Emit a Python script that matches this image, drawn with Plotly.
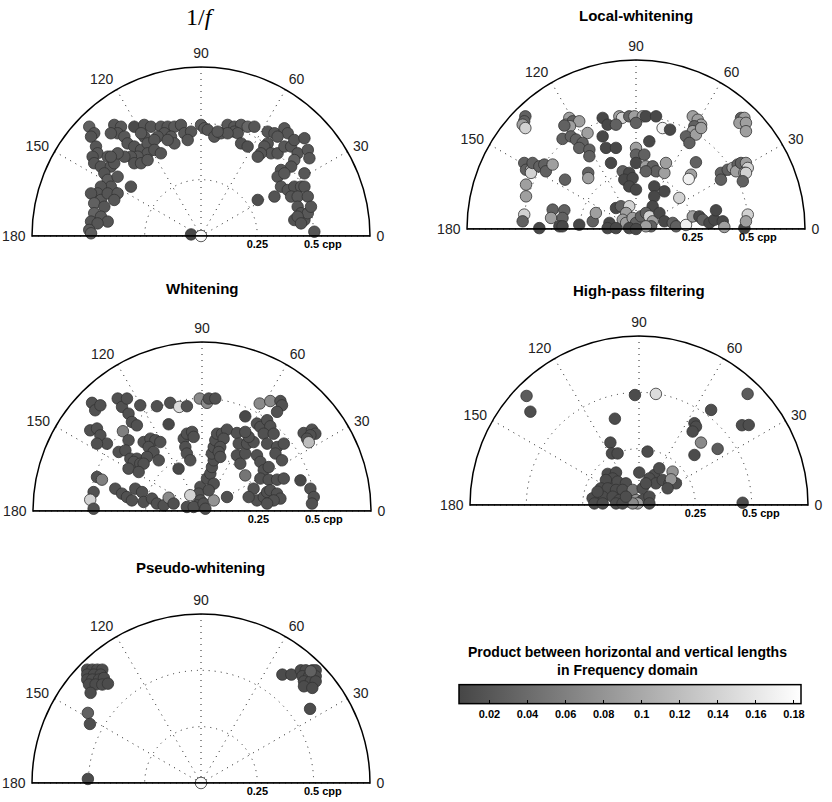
import numpy as np
import plotly.graph_objects as go

# ---------------- data (frequency coordinates in cpp, product values) ----------------
# Panel 1: 1/f
P1_FX = [-0.496,-0.474,-0.488,-0.466,-0.459,-0.481,-0.474,-0.444,-0.414,-0.400,-0.429,-0.414,-0.400,-0.444,-0.370,-0.385,
         -0.459,-0.488,-0.444,-0.474,-0.429,-0.414,-0.370,-0.385,-0.311,-0.474,-0.488,-0.444,-0.414,-0.459,-0.496,-0.488,
         -0.385,-0.355,-0.370,-0.400,-0.340,-0.296,-0.252,-0.222,-0.178,-0.148,-0.118,-0.089,-0.163,-0.133,-0.192,-0.252,
         -0.266,-0.326,-0.296,-0.266,-0.237,-0.207,-0.237,-0.281,-0.311,-0.340,-0.370,-0.400,-0.296,-0.266,-0.237,-0.207,
         -0.178,-0.074,-0.044,-0.059,-0.118,-0.148,
         0.000,0.015,0.030,
         0.059,0.089,0.118,0.148,0.178,0.148,0.163,0.207,0.237,0.178,0.207,0.118,0.074,
         0.296,0.326,0.370,0.385,0.340,0.296,0.281,0.311,0.340,0.266,0.252,0.370,0.400,0.414,0.429,0.459,0.474,0.481,
         0.414,0.400,0.355,0.340,0.370,0.355,0.385,0.414,0.444,0.400,0.429,0.459,0.459,0.474,0.429,0.444,0.459,0.474,
         0.488,0.414,0.429,0.444,0.503,
         0.252,0.326,-0.044,0.000]
P1_FY = [0.485,0.456,0.441,0.397,0.367,0.352,0.323,0.308,0.352,0.308,0.278,0.249,0.219,0.219,0.263,0.323,
         0.189,0.189,0.160,0.145,0.130,0.189,0.189,0.160,0.219,0.101,0.064,0.086,0.064,0.056,0.027,0.012,
         0.493,0.485,0.456,0.456,0.441,0.485,0.493,0.485,0.485,0.485,0.485,0.493,0.456,0.441,0.441,0.441,
         0.456,0.411,0.397,0.382,0.411,0.426,0.367,0.352,0.352,0.352,0.367,0.352,0.323,0.323,0.337,0.382,
         0.367,0.456,0.463,0.426,0.411,0.426,
         0.493,0.478,0.471,
         0.441,0.456,0.493,0.485,0.493,0.463,0.456,0.485,0.485,0.411,0.397,0.456,0.463,
         0.463,0.456,0.478,0.456,0.441,0.411,0.397,0.367,0.367,0.367,0.352,0.397,0.397,0.426,0.367,0.434,0.382,0.345,
         0.337,0.308,0.293,0.263,0.278,0.219,0.204,0.219,0.219,0.175,0.175,0.278,0.219,0.175,0.130,0.101,0.071,0.101,
         0.130,0.071,0.086,0.056,0.019,
         0.160,0.175,0.007,0.000]
P1_V = [0.030,0.020,0.018,0.020,0.022,0.018,0.020,0.019,0.021,0.020,0.018,0.026,0.020,0.019,0.021,0.020,
        0.020,0.018,0.022,0.030,0.020,0.019,0.021,0.020,0.016,0.032,0.020,0.021,0.019,0.020,0.022,0.028,
        0.020,0.022,0.019,0.020,0.021,0.008,0.020,0.019,0.021,0.020,0.022,0.020,0.019,0.021,0.020,0.019,
        0.021,0.020,0.018,0.020,0.021,0.019,0.020,0.022,0.020,0.019,0.021,0.020,0.018,0.020,0.021,0.019,
        0.020,0.022,0.020,0.019,0.021,0.020,
        0.024,0.022,0.020,
        0.020,0.019,0.021,0.020,0.022,0.019,0.020,0.035,0.020,0.016,0.015,0.020,0.021,
        0.020,0.019,0.021,0.020,0.022,0.018,0.020,0.021,0.019,0.020,0.018,0.021,0.020,0.019,0.020,0.018,0.021,0.020,
        0.030,0.018,0.020,0.019,0.021,0.020,0.018,0.015,0.020,0.019,0.021,0.020,0.018,0.020,0.019,0.016,0.020,0.021,
        0.020,0.015,0.019,0.018,0.020,
        0.012,0.018,0.006,0.180]

# Panel 2: Local-whitening
P2_FX = [-0.491,-0.496,-0.503,-0.491,-0.296,-0.311,-0.281,-0.252,-0.293,-0.318,-0.215,-0.326,-0.289,-0.266,-0.237,-0.252,
         -0.207,-0.207,-0.148,-0.126,-0.074,-0.062,-0.089,-0.030,-0.007,0.030,0.000,0.044,0.089,0.118,0.151,0.059,
         -0.148,-0.133,-0.089,0.000,0.000,0.037,-0.111,-0.059,-0.030,-0.052,-0.015,0.000,0.044,0.074,0.089,0.126,
         0.133,0.044,-0.030,0.000,0.081,0.126,0.081,0.074,0.192,0.252,0.274,0.289,0.259,0.252,0.222,0.266,0.289,
         0.237,0.266,0.244,0.234,0.466,0.481,0.459,0.488,0.488,0.377,0.377,0.407,0.429,0.451,0.444,0.466,0.488,
         0.496,0.481,0.488,0.474,-0.496,-0.488,-0.466,-0.466,-0.459,-0.429,-0.407,-0.400,-0.370,-0.488,-0.488,-0.315,
         -0.212,-0.212,-0.496,-0.503,-0.370,-0.318,-0.377,-0.326,-0.340,-0.326,-0.429,-0.252,-0.192,-0.178,-0.118,-0.089,
         -0.067,-0.030,-0.044,-0.059,-0.044,-0.015,0.000,0.022,0.044,0.059,0.074,0.067,0.044,0.104,0.126,0.163,0.178,
         0.222,0.252,0.281,0.296,0.326,0.348,0.355,0.385,0.392,0.481,0.496,0.488,-0.126,-0.030,-0.089,0.000]
P2_FY = [0.500,0.478,0.463,0.448,0.493,0.463,0.478,0.478,0.456,0.459,0.426,0.400,0.411,0.397,0.382,0.360,
         0.352,0.323,0.493,0.463,0.500,0.493,0.463,0.500,0.500,0.500,0.471,0.500,0.500,0.448,0.441,0.389,
         0.411,0.360,0.360,0.360,0.330,0.330,0.293,0.256,0.249,0.219,0.226,0.293,0.278,0.278,0.256,0.249,
         0.293,0.256,0.189,0.175,0.189,0.167,0.145,0.101,0.138,0.500,0.485,0.463,0.456,0.434,0.411,0.419,0.448,
         0.382,0.296,0.241,0.222,0.493,0.493,0.471,0.471,0.434,0.249,0.219,0.263,0.271,0.286,0.256,0.293,0.293,
         0.271,0.249,0.249,0.212,0.293,0.263,0.263,0.249,0.293,0.278,0.286,0.256,0.286,0.197,0.145,0.219,
         0.249,0.226,0.064,0.034,0.086,0.083,0.049,0.049,0.012,0.012,0.004,0.019,0.034,0.071,0.027,0.093,
         0.101,0.101,0.071,0.041,0.027,0.049,0.027,0.056,0.071,0.056,0.034,0.012,0.012,0.071,0.034,0.027,0.012,
         0.018,0.056,0.056,0.041,0.027,0.041,0.083,0.034,0.009,0.004,0.064,0.034,0.004,0.004,0.004,0.000]
P2_V = [0.030,0.030,0.090,0.140,0.090,0.090,0.030,0.090,0.090,0.030,0.090,0.030,0.030,0.030,0.030,0.030,
        0.030,0.030,0.006,0.006,0.090,0.140,0.030,0.030,0.090,0.090,0.030,0.006,0.006,0.170,0.006,0.006,
        0.006,0.006,0.006,0.090,0.030,0.030,0.006,0.030,0.006,0.006,0.006,0.006,0.090,0.030,0.030,0.090,
        0.090,0.030,0.006,0.006,0.006,0.006,0.006,0.006,0.140,0.090,0.090,0.090,0.030,0.090,0.030,0.090,0.090,
        0.030,0.030,0.090,0.170,0.030,0.090,0.090,0.090,0.090,0.030,0.030,0.030,0.090,0.030,0.090,0.030,0.090,
        0.140,0.090,0.140,0.030,0.030,0.030,0.090,0.140,0.030,0.030,0.030,0.030,0.090,0.090,0.090,0.030,
        0.030,0.090,0.140,0.030,0.030,0.030,0.090,0.030,0.006,0.006,0.006,0.006,0.030,0.090,0.006,0.006,
        0.030,0.140,0.090,0.090,0.090,0.090,0.030,0.030,0.030,0.140,0.090,0.030,0.090,0.006,0.006,0.030,0.030,
        0.170,0.090,0.006,0.030,0.006,0.006,0.006,0.006,0.090,0.006,0.140,0.090,0.006,0.006,0.006,0.006]

# Panel 3: Whitening
P3_FX = [-0.488,-0.474,-0.451,-0.374,-0.355,-0.333,-0.326,-0.311,-0.289,-0.274,-0.200,-0.141,-0.101,-0.067,-0.010,0.022,
         0.030,0.059,-0.148,-0.496,-0.466,-0.451,-0.422,-0.466,-0.351,-0.326,-0.370,-0.340,-0.318,-0.289,-0.303,-0.274,
         -0.326,-0.259,-0.229,-0.207,-0.185,-0.237,-0.215,-0.244,-0.259,-0.192,-0.281,-0.466,-0.444,-0.481,-0.496,-0.481,
         -0.385,-0.355,-0.333,-0.311,-0.296,-0.266,-0.259,-0.222,-0.200,-0.170,-0.148,-0.126,-0.081,-0.067,-0.044,-0.037,
         -0.074,-0.067,-0.052,-0.104,-0.007,-0.015,-0.052,-0.007,-0.022,-0.067,-0.037,0.007,0.015,0.052,0.111,0.022,
         0.037,0.044,0.052,0.044,0.052,0.059,0.067,0.089,0.111,0.096,0.081,0.074,0.081,0.052,0.030,0.155,0.163,
         0.155,0.170,0.192,0.200,0.229,0.207,0.192,0.192,0.244,0.259,0.289,0.303,0.274,0.318,0.289,0.333,0.363,0.326,
         0.355,0.244,0.259,0.274,0.296,0.192,0.259,0.296,0.333,0.363,0.229,0.244,0.274,0.289,0.303,0.333,0.348,0.318,
         0.289,0.207,0.256,0.303,0.348,0.355,0.333,0.437,0.451,0.488,0.503,0.481,0.466,0.474,0.481,0.496,0.488]
P3_FY = [0.480,0.447,0.469,0.499,0.462,0.499,0.432,0.395,0.380,0.469,0.465,0.480,0.462,0.465,0.499,0.480,
         0.499,0.499,0.385,0.358,0.366,0.336,0.299,0.299,0.354,0.314,0.262,0.269,0.232,0.232,0.218,0.210,
         0.188,0.306,0.321,0.314,0.306,0.284,0.262,0.240,0.210,0.225,0.173,0.151,0.139,0.084,0.050,0.010,
         0.099,0.077,0.062,0.047,0.099,0.084,0.040,0.055,0.033,0.025,0.059,0.033,0.321,0.343,0.351,0.329,
         0.284,0.255,0.225,0.188,0.107,0.077,0.070,0.047,0.025,0.018,0.018,0.033,0.010,0.047,0.062,0.144,
         0.166,0.195,0.225,0.255,0.284,0.314,0.343,0.343,0.361,0.321,0.284,0.262,0.240,0.121,0.092,0.346,0.299,
         0.247,0.210,0.255,0.299,0.306,0.329,0.351,0.420,0.388,0.373,0.403,0.376,0.343,0.343,0.299,0.284,0.299,0.255,
         0.225,0.247,0.218,0.181,0.195,0.158,0.144,0.139,0.139,0.144,0.099,0.047,0.062,0.084,0.092,0.077,0.055,0.047,
         0.033,0.062,0.477,0.488,0.488,0.469,0.440,0.136,0.346,0.361,0.343,0.336,0.321,0.305,0.099,0.062,0.033]
P3_V = [0.015,0.015,0.015,0.015,0.015,0.015,0.015,0.015,0.015,0.015,0.015,0.015,0.150,0.015,0.070,0.070,
        0.015,0.015,0.006,0.015,0.015,0.015,0.015,0.015,0.060,0.015,0.015,0.015,0.015,0.015,0.015,0.015,
        0.015,0.015,0.015,0.015,0.015,0.015,0.015,0.015,0.015,0.015,0.015,0.015,0.060,0.015,0.140,0.015,
        0.015,0.015,0.015,0.015,0.015,0.015,0.015,0.015,0.015,0.015,0.070,0.015,0.015,0.015,0.015,0.015,
        0.015,0.015,0.015,0.006,0.015,0.015,0.140,0.015,0.015,0.015,0.015,0.015,0.015,0.080,0.015,0.015,
        0.015,0.015,0.015,0.015,0.015,0.015,0.015,0.015,0.015,0.015,0.015,0.015,0.015,0.015,0.015,0.015,0.015,
        0.015,0.015,0.015,0.015,0.015,0.015,0.015,0.006,0.015,0.015,0.015,0.015,0.015,0.015,0.015,0.015,0.015,0.015,
        0.015,0.015,0.015,0.015,0.015,0.050,0.015,0.015,0.015,0.015,0.015,0.015,0.015,0.015,0.015,0.015,0.015,0.015,
        0.015,0.015,0.070,0.070,0.015,0.015,0.015,0.006,0.015,0.015,0.015,0.015,0.015,0.120,0.015,0.015,0.015]

# Panel 4: High-pass filtering
P4_FX = [-0.499,-0.482,-0.018,0.075,-0.107,0.320,0.482,0.457,0.487,0.246,0.253,0.238,0.275,0.349,0.246,-0.127,
         -0.120,-0.095,0.038,0.460,
         -0.139,-0.102,-0.117,-0.147,-0.095,-0.058,-0.169,-0.139,-0.102,-0.073,-0.028,0.016,-0.161,-0.117,-0.087,
         -0.206,-0.198,-0.161,-0.102,-0.043,-0.013,0.016,0.046,0.001,0.068,0.090,0.046,0.075,0.105,0.135,0.164,
         0.149,0.142,0.127,0.031,-0.006,0.046,-0.028,-0.073,-0.184,-0.058]
P4_FY = [0.484,0.414,0.488,0.493,0.383,0.422,0.493,0.354,0.355,0.363,0.348,0.326,0.277,0.249,0.222,0.277,
         0.229,0.229,0.237,0.010,
         0.138,0.144,0.118,0.111,0.104,0.096,0.074,0.074,0.067,0.067,0.067,0.074,0.037,0.037,0.022,
         0.030,0.007,0.007,0.007,0.015,0.022,0.022,0.037,0.144,0.133,0.163,0.118,0.096,0.111,0.096,0.096,
         0.148,0.114,0.074,0.096,0.007,0.007,0.007,0.007,0.059,0.037]
P4_V = [0.025,0.012,0.010,0.150,0.010,0.012,0.025,0.012,0.012,0.010,0.010,0.010,0.070,0.025,0.010,0.010,
        0.010,0.010,0.010,0.012,
        0.010,0.010,0.010,0.010,0.012,0.012,0.010,0.010,0.010,0.012,0.050,0.012,0.010,0.010,0.010,
        0.010,0.010,0.010,0.010,0.012,0.080,0.012,0.012,0.010,0.012,0.012,0.012,0.012,0.012,0.012,0.012,
        0.080,0.080,0.012,0.012,0.090,0.012,0.070,0.010,0.010,0.012]

# Panel 5: Pseudo-whitening
P5_FX = [-0.505,-0.482,-0.460,-0.438,-0.505,-0.475,-0.445,-0.505,-0.482,-0.453,-0.431,-0.497,-0.468,-0.438,-0.413,
         -0.490,-0.502,-0.493,-0.502,
         0.361,0.401,0.443,0.465,0.494,0.509,0.450,0.480,0.509,0.457,0.487,0.509,0.457,0.494,0.487,0.484,0.000]
P5_FY = [0.503,0.503,0.503,0.503,0.481,0.481,0.481,0.459,0.459,0.459,0.466,0.437,0.437,0.437,0.441,
         0.400,0.311,0.262,0.018,
         0.481,0.481,0.500,0.500,0.500,0.500,0.474,0.474,0.474,0.451,0.451,0.451,0.429,0.422,0.496,0.329,0.000]
P5_V = [0.010,0.010,0.010,0.010,0.010,0.010,0.010,0.010,0.012,0.010,0.010,0.010,0.010,0.012,0.010,
        0.010,0.030,0.012,0.010,
        0.010,0.010,0.010,0.010,0.010,0.010,0.010,0.010,0.010,0.010,0.010,0.010,0.010,0.010,0.030,0.010,0.180]

PANEL_TITLES = ["1/<i>f</i>", "<b>Local-whitening</b>", "<b>Whitening</b>",
                "<b>High-pass filtering</b>", "<b>Pseudo-whitening</b>"]
ANG_TICKS = [0, 30, 60, 90, 120, 150, 180]
R_TICKS = [0.25, 0.5]
R_LABELS = ["<b>0.25</b>", "\u00a0" * 6 + "<b>0.5 cpp</b>"]
R_MAX = 0.75
CB_TICKS = [0.02, 0.04, 0.06, 0.08, 0.1, 0.12, 0.14, 0.16, 0.18]
CB_LABELS = ["0.02", "0.04", "0.06", "0.08", "0.1", "0.12", "0.14", "0.16", "0.18"]
CB_MIN, CB_MAX = 0.004, 0.1837
CB_TITLE = "<b>Product between horizontal and vertical lengths<br>in Frequency domain</b>"

PANELS = [(P1_FX, P1_FY, P1_V), (P2_FX, P2_FY, P2_V), (P3_FX, P3_FY, P3_V),
          (P4_FX, P4_FY, P4_V), (P5_FX, P5_FY, P5_V)]

# ---------------- layout geometry ----------------
W, H = 832, 802
# (left, right, top, baseline) in px for each half-disc
GEOM = [(32, 370, 67, 236), (467, 805, 60, 229), (33, 371, 342, 511),
        (470, 808, 336, 505), (32, 370, 614, 783)]
TITLE_POS = [(200, 17), (636, 16), (202, 288), (639, 290), (200, 567)]

FONT = "Liberation Sans, Arial, sans-serif"
GRID = dict(showgrid=True, gridcolor="#222", griddash="1px,5px", gridwidth=1)

fig = go.Figure()
for i, (fx, fy, v) in enumerate(PANELS):
    fx = np.asarray(fx, float); fy = np.asarray(fy, float)
    r = np.hypot(fx, fy)
    th = np.degrees(np.arctan2(fy, fx))
    sub = "polar" if i == 0 else f"polar{i+1}"
    fig.add_trace(go.Scatterpolar(
        r=r, theta=th, mode="markers", subplot=sub, showlegend=False,
        marker=dict(size=11.5, color=v, coloraxis="coloraxis",
                    line=dict(color="#333333", width=0.8)),
        hoverinfo="skip"))
    fig.add_trace(go.Scatterpolar(
        r=[R_MAX, 0, R_MAX], theta=[180, 0, 0], mode="lines", subplot=sub,
        showlegend=False, cliponaxis=False,
        line=dict(color="black", width=1.5), hoverinfo="skip"))

    l, rgt, top, base = GEOM[i]
    fig.layout[sub] = dict(
        domain=dict(x=[l / W, rgt / W], y=[1 - base / H, 1 - top / H]),
        sector=[0, 180], bgcolor="white",
        angularaxis=dict(direction="counterclockwise", rotation=0,
                         tickmode="array", tickvals=ANG_TICKS,
                         ticktext=[str(a) for a in ANG_TICKS],
                         showline=True, linecolor="black", linewidth=1.5,
                         ticks="outside", ticklen=3, tickcolor="rgba(0,0,0,0)",
                         tickfont=dict(family=FONT, size=14, color="#222"),
                         **GRID),
        radialaxis=dict(range=[0, R_MAX], tickmode="array", tickvals=R_TICKS,
                        ticktext=R_LABELS, angle=0, side="clockwise",
                        showline=False, ticks="", tickangle=0,
                        tickfont=dict(family=FONT, size=11, color="black"),
                        **GRID),
    )
    tx, ty = TITLE_POS[i]
    if i == 0:
        tfont = dict(family="Liberation Serif, DejaVu Serif, serif", size=24, color="black")
    else:
        tfont = dict(family=FONT, size=15, color="black")
    fig.add_annotation(text=PANEL_TITLES[i], x=tx / W, y=1 - ty / H, xref="paper", yref="paper",
                       xanchor="center", yanchor="middle", showarrow=False, font=tfont)

fig.add_annotation(text=CB_TITLE, x=627 / W, y=1 - 661 / H, xref="paper", yref="paper",
                   xanchor="center", yanchor="middle", showarrow=False,
                   font=dict(family=FONT, size=14, color="black"))

fig.update_layout(
    width=W, height=H, autosize=False,
    margin=dict(l=0, r=0, t=0, b=0),
    paper_bgcolor="white", plot_bgcolor="white",
    showlegend=False,
    coloraxis=dict(
        colorscale=[[0, "rgb(70,70,70)"], [1, "rgb(255,255,255)"]],
        cmin=CB_MIN, cmax=CB_MAX,
        colorbar=dict(orientation="h", x=630 / W, xanchor="center",
                      y=1 - 704.5 / H, yanchor="middle",
                      len=342 / W, lenmode="fraction", thickness=19,
                      outlinecolor="black", outlinewidth=1.5,
                      ticks="inside", ticklen=4, tickcolor="black",
                      tickmode="array", tickvals=CB_TICKS,
                      ticktext=[f"<b>{t}</b>" for t in CB_LABELS],
                      tickfont=dict(family=FONT, size=11, color="black"),
                      xpad=0, ypad=0, title=dict(text="")),
    ),
)

fig.write_html("out.html")
